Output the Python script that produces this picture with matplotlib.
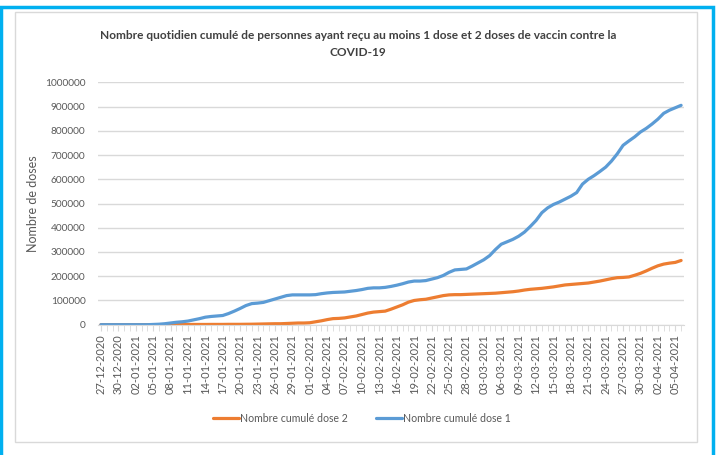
import matplotlib
matplotlib.use("Agg")
import matplotlib.pyplot as plt
import matplotlib.dates as mdates
import pandas as pd
from matplotlib.patches import Rectangle

plt.rcParams['font.family'] = ['Lato', 'DejaVu Sans']

# one value per day, starting 27-12-2020
start_day = '2020-12-27'

dose1 = [0, 0, 0, 0, 0, 0, 0, 0, 0, 1000,
         2000, 4000, 7000, 10000, 12000, 15000, 20000, 25000, 31000, 34000,
         36000, 38000, 46000, 56000, 67000, 79000, 87000, 89000, 92000, 99000,
         106000, 113000, 120000, 123000, 123000, 123000, 123000, 124000, 128000, 131000,
         133000, 134000, 135000, 138000, 141000, 145000, 150000, 152000, 152000, 154000,
         158000, 163000, 169000, 176000, 180000, 180000, 182000, 188000, 194000, 203000,
         216000, 226000, 228000, 230000, 242000, 255000, 268000, 285000, 310000, 332000,
         342000, 352000, 365000, 382000, 405000, 430000, 462000, 482000, 496000, 506000,
         518000, 530000, 545000, 580000, 600000, 615000, 632000, 650000, 675000, 705000,
         740000, 758000, 775000, 795000, 810000, 828000, 848000, 872000, 885000, 895000,
         905000]

dose2 = [0, 0, 0, 0, 0, 0, 0, 0, 0, 0,
         0, 0, 500, 500, 800, 800, 1000, 1000, 1000, 1200,
         1200, 1200, 1500, 1500, 1500, 1800, 2000, 2500, 3000, 3500,
         4000, 4000, 5000, 6000, 7000, 7000, 8000, 12000, 16000, 21000,
         25000, 26000, 28000, 32000, 36000, 42000, 48000, 52000, 54000, 56000,
         64000, 73000, 82000, 93000, 100000, 103000, 105000, 110000, 115000, 120000,
         123000, 124000, 124000, 125000, 126000, 127000, 128000, 129000, 130000, 132000,
         134000, 136000, 139000, 143000, 146000, 148000, 150000, 153000, 156000, 160000,
         164000, 166000, 168000, 170000, 172000, 176000, 180000, 185000, 190000, 194000,
         195000, 197000, 204000, 212000, 222000, 233000, 243000, 250000, 254000, 257000,
         265000]

dates = pd.date_range(start_day, periods=len(dose1), freq='D')

fig = plt.figure(figsize=(7.17, 4.55), dpi=100)
ax = fig.add_axes([98 / 717, 1 - 324.7 / 455, 586 / 717, 242.4 / 455])

ax.plot(dates, dose2, color='#ED7D31', lw=2.3, label='Nombre cumulé dose 2',
        solid_capstyle='round')
ax.plot(dates, dose1, color='#5B9BD5', lw=2.3, label='Nombre cumulé dose 1',
        solid_capstyle='round')

ax.set_xlim(dates[0] - pd.Timedelta(hours=12), dates[-1] + pd.Timedelta(hours=12))
ax.set_ylim(0, 1000000)
ax.set_yticks(range(0, 1000001, 100000))
ax.yaxis.set_major_formatter(matplotlib.ticker.FuncFormatter(lambda v, p: f'{int(v)}'))
ax.set_xticks(dates[::3])
ax.set_xticklabels([d.strftime('%d-%m-%Y') for d in dates[::3]], rotation=90)
ax.xaxis.set_minor_locator(mdates.DayLocator())

ax.grid(axis='y', color='#D9D9D9', lw=1)
ax.set_axisbelow(True)
for s in ['top', 'right', 'left']:
    ax.spines[s].set_visible(False)
ax.spines['bottom'].set_color('#D9D9D9')
ax.tick_params(axis='y', length=0, labelsize=7.3, labelcolor='#595959', pad=9)
ax.tick_params(axis='x', which='major', length=4, color='#D9D9D9', labelsize=8,
               labelcolor='#595959', pad=3)
ax.tick_params(axis='x', which='minor', length=4, color='#D9D9D9')

ax.set_ylabel('Nombre de doses', fontsize=9, color='#595959', labelpad=4)

fig.text(358 / 717, 1 - 44 / 455, 'Nombre quotidien cumulé de personnes ayant reçu au moins 1 dose et 2 doses de vaccin contre la\nCOVID-19',
         ha='center', va='center', fontsize=8.6, fontweight='bold', color='#404040',
         linespacing=1.75)

fig.legend(loc='center', bbox_to_anchor=(362 / 717, 1 - 418 / 455), ncol=2, frameon=False,
           fontsize=7.6, labelcolor='#595959', handlelength=2.5, columnspacing=2.6,
           handletextpad=0.1)

# chart frames
fig.patches.append(Rectangle((15 / 717, 1 - 442 / 455), 682 / 717, 430 / 455,
                             transform=fig.transFigure, fill=False, ec='#D9D9D9', lw=1))
fig.patches.append(Rectangle((1.5 / 717, -0.05), 711 / 717, 1.05 - 7 / 455,
                             transform=fig.transFigure, fill=False, ec='#00B0F0', lw=2.5))

fig.savefig('out.png', dpi=100)
